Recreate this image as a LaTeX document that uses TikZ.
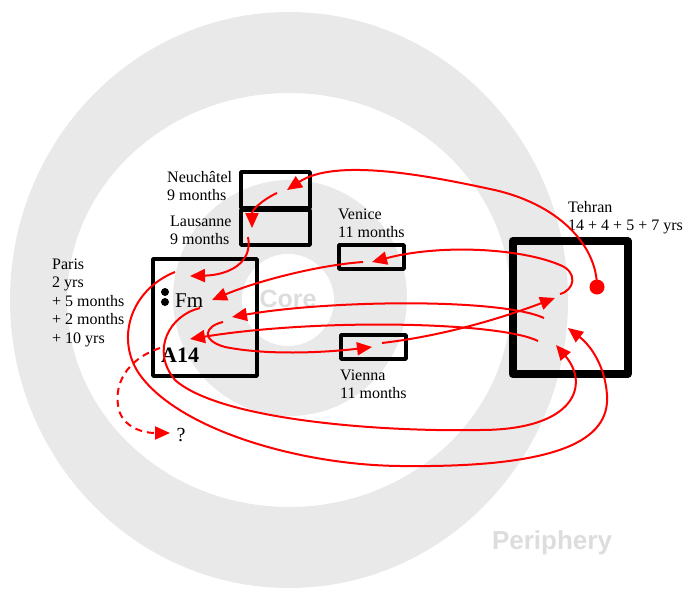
\documentclass[tikz,border=0pt]{standalone}
\usepackage{fontspec}
\setmainfont{Liberation Serif}
\newfontfamily\labelsans{Liberation Sans}
\usetikzlibrary{arrows.meta}
\definecolor{ringgrey}{RGB}{233,233,233}
\definecolor{wordgrey}{RGB}{221,221,221}
\definecolor{flowred}{RGB}{255,0,0}
\begin{document}
\begin{tikzpicture}[x=1pt, y=-1pt,
  box/.style={draw, line width=3.5pt, inner sep=0pt, outer sep=0pt, line join=round},
  lbl/.style={anchor=base west, inner sep=0pt, align=left, font=\fontsize{16}{18.5}\selectfont},
  zone/.style={text=wordgrey, inner sep=0pt, font=\labelsans\bfseries\fontsize{25}{25}\selectfont},
  flow/.style={draw=flowred, line width=2pt, -{Triangle[length=15pt,width=13pt]}},
  blackdot/.style={circle, fill=black, minimum size=8pt, inner sep=0pt},
]
\useasboundingbox (0,0) rectangle (683,591);
\fill[white] (0,0) rectangle (683,591);
% rings
\fill[ringgrey, even odd rule] (289,300) ellipse [x radius=279, y radius=288]
      (289,300) ellipse [x radius=222, y radius=207];
\fill[ringgrey] (290,298) ellipse [x radius=117, y radius=118];
\fill[white] (288,300) ellipse [x radius=46, y radius=46];
\node[zone] (core) at (288,299) {Core};
\node[zone, font=\labelsans\bfseries\fontsize{26}{26}\selectfont] (periph) at (552,543) {Periphery};

% labels (anchored at the baseline of the last line)
\node[lbl] (neulbl) at (167,200.5) {Neuchâtel\\9 months};
\node[lbl] (laulbl) at (170,244.5) {Lausanne\\9 months};
\node[lbl] (parlbl) at (52,343) {Paris\\2 yrs\\+ 5 months\\+ 2 months\\+ 10 yrs};
\node[lbl] (venlbl) at (338,237.5) {Venice\\11 months};
\node[lbl] (vielbl) at (340,398.5) {Vienna\\11 months};
\node[lbl] (tehlbl) at (568,230.5) {Tehran\\14 + 4 + 5 + 7 yrs};

% boxes
\node[box, minimum width=69pt, minimum height=36pt] (neu) at (275.5,190) {};
\node[box, minimum width=69pt, minimum height=35pt] (lau) at (275.5,227.5) {};
\node[box, minimum width=104pt, minimum height=117pt] (a14box) at (205,317.5) {};
\node[box, minimum width=65pt, minimum height=24pt] (ven) at (371.5,257) {};
\node[box, minimum width=65pt, minimum height=24pt] (vie) at (373.5,347) {};
\node[box, line width=8pt, minimum width=115pt, minimum height=133pt] (teh) at (570,307.5) {};

% inside A14
\node[blackdot] (d1) at (165,292) {};
\node[blackdot] (d2) at (165,302) {};
\node[anchor=base west, inner sep=0pt, font=\fontsize{21}{21}\selectfont] (fm) at (175,307) {Fm};
\node[anchor=base west, inner sep=0pt, font=\bfseries\fontsize{22}{22}\selectfont] (a14) at (161,362) {A14};
\node[inner sep=0pt, font=\fontsize{20}{20}\selectfont] (q) at (181,435) {?};

% connector ends
\coordinate (neuIn) at (287,190);
\coordinate (neuOut) at (277,193);
\coordinate (lauIn) at (252,228);
\coordinate (lauOut) at (248,237);
\coordinate (a14In1) at (190,276);
\coordinate (tehOut1) at (560,294);
\coordinate (venIn) at (372,262);
\coordinate (venOut) at (363,262);
\coordinate (a14In2) at (212,300);
\coordinate (vieOut) at (382,343);
\coordinate (tehIn1) at (555,298);
\coordinate (tehOut2) at (544,318);
\coordinate (a14In3) at (232,317);
\coordinate (tehOut3) at (538,341);
\coordinate (a14In4) at (190,339);
\coordinate (a14Out1) at (223,322);
\coordinate (vieIn) at (372,347);
\coordinate (a14Out2) at (200,308);
\coordinate (tehIn2) at (556,345);
\coordinate (a14Out3) at (175,272);
\coordinate (tehIn3) at (568,328);
\coordinate (a14Out4) at (160,348);
\coordinate (qIn) at (170,433);
\coordinate (tehStart) at (597,287);

% connectors
\draw[flow] (tehStart) .. controls (597,245) and (558,203) .. (490,189)
            .. controls (425,175) and (335,158) .. (neuIn);
\draw[flow] (neuOut) .. controls (262,200) and (252,210) .. (lauIn);
\draw[flow] (lauOut) .. controls (253,262) and (230,275) .. (a14In1);
\draw[flow] (tehOut1) .. controls (575,290) and (578,272) .. (560,265)
            .. controls (520,248) and (440,244) .. (venIn);
\draw[flow] (venOut) .. controls (320,265) and (260,280) .. (a14In2);
\draw[flow] (vieOut) .. controls (450,335) and (510,315) .. (tehIn1);
\draw[flow] (tehOut2) .. controls (500,298) and (330,300) .. (a14In3);
\draw[flow] (tehOut3) .. controls (500,322) and (320,318) .. (a14In4);
\draw[flow] (a14Out1) .. controls (205,326) and (200,340) .. (225,347)
            .. controls (270,356) and (330,352) .. (vieIn);
\draw[flow] (a14Out2) .. controls (170,315) and (150,350) .. (175,380)
            .. controls (220,420) and (380,432) .. (480,430)
            .. controls (575,430) and (590,385) .. (tehIn2);
\draw[flow] (a14Out3) .. controls (130,290) and (115,340) .. (140,375)
            .. controls (180,430) and (300,465) .. (400,466)
            .. controls (560,468) and (610,440) .. (607,395)
            .. controls (605,365) and (590,345) .. (tehIn3);
\draw[flow, dash pattern=on 7pt off 5pt] (a14Out4) .. controls (125,360) and (115,385) .. (118,405)
            .. controls (120,425) and (140,433) .. (qIn);
\node[circle, fill=flowred, minimum size=15pt, inner sep=0pt] (tehdot) at (tehStart) {};
\end{tikzpicture}
\end{document}
